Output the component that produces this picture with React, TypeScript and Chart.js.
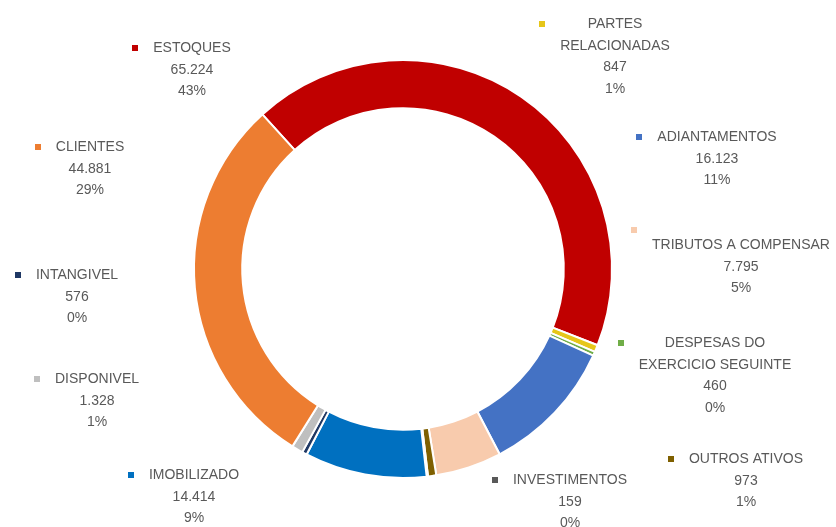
import React, { useEffect, useRef } from "react";
import { Chart, registerables } from "chart.js";

Chart.register(...registerables);

// ---- data ----
const CATEGORIES: string[][] = [
  ["ESTOQUES"],
  ["PARTES", "RELACIONADAS"],
  ["DESPESAS DO", "EXERCICIO SEGUINTE"],
  ["ADIANTAMENTOS"],
  ["TRIBUTOS A COMPENSAR"],
  ["OUTROS ATIVOS"],
  ["INVESTIMENTOS"],
  ["IMOBILIZADO"],
  ["INTANGIVEL"],
  ["DISPONIVEL"],
  ["CLIENTES"],
];
const VALUES: number[] = [65224, 847, 460, 16123, 7795, 973, 159, 14414, 576, 1328, 44881];
const COLORS: string[] = [
  "#C00000",
  "#E6C619",
  "#70AD47",
  "#4472C4",
  "#F8CBAD",
  "#7F6000",
  "#595959",
  "#0070C0",
  "#1F3864",
  "#BFBFBF",
  "#ED7D31",
];

// ---- label layout (text block centre x, first line y) ----
const LABEL_X: number[] = [192, 615, 715, 717, 741, 746, 570, 194, 77, 97, 90];
const LABEL_Y: number[] = [48, 24, 343, 137, 245, 459, 480, 475, 275, 379, 147];
const MARKER_DY: number[] = [0, 0, 0, 0, -15, 0, 0, 0, 0, 0, 0];
const LINE_H = 21.7;

function fmtBR(n: number): string {
  const s = Math.round(n).toString();
  return s.replace(/\B(?=(\d{3})+(?!\d))/g, ".");
}

const labelPlugin = {
  id: "excelLabels",
  afterDraw(chart: any) {
    const ctx = chart.ctx as CanvasRenderingContext2D;
    const data = chart.data.datasets[0].data as number[];
    const total = data.reduce((a, b) => a + b, 0);
    ctx.save();
    ctx.font = '14px "Liberation Sans", Arial, sans-serif';
    ctx.textAlign = "center";
    ctx.textBaseline = "middle";
    data.forEach((v, i) => {
      const names = CATEGORIES[i];
      const lines = [...names, fmtBR(v), Math.round((v / total) * 100) + "%"];
      const x = LABEL_X[i];
      const y = LABEL_Y[i];
      ctx.fillStyle = "#595959";
      lines.forEach((t, k) => ctx.fillText(t, x, y + k * LINE_H));
      let maxW = 0;
      names.forEach((t) => {
        maxW = Math.max(maxW, ctx.measureText(t).width);
      });
      const mx = x - maxW / 2 - 18;
      const my = y + MARKER_DY[i];
      ctx.fillStyle = COLORS[i];
      ctx.fillRect(Math.round(mx - 3), Math.round(my - 3), 6, 6);
    });
    ctx.restore();
  },
};

export default function App() {
  const ref = useRef<HTMLCanvasElement | null>(null);
  useEffect(() => {
    if (!ref.current) return;
    const chart = new Chart(ref.current, {
      type: "doughnut",
      data: {
        labels: CATEGORIES.map((c) => c.join(" ")),
        datasets: [
          {
            data: VALUES,
            backgroundColor: COLORS,
            borderColor: "#FFFFFF",
            borderWidth: 2,
          },
        ],
      },
      options: {
        responsive: false,
        animation: false,
        events: [],
        rotation: -42.3,
        radius: 209,
        cutout: 160,
        layout: { padding: { top: 60, bottom: 49, left: 194, right: 224 } },
        plugins: {
          legend: { display: false },
          tooltip: { enabled: false },
        },
      },
      plugins: [labelPlugin],
    });
    return () => chart.destroy();
  }, []);
  return (
    <div style={{ position: "absolute", left: 0, top: 0, width: 836, height: 527, background: "#FFFFFF" }}>
      <canvas ref={ref} width={836} height={527} style={{ display: "block" }} />
    </div>
  );
}
